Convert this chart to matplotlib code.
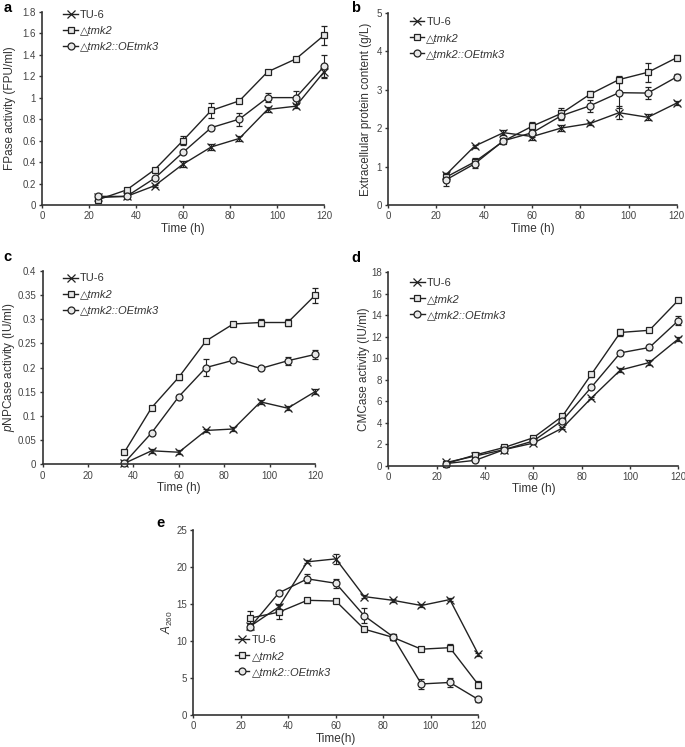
import matplotlib
matplotlib.use("Agg")
import matplotlib.pyplot as plt
import matplotlib.transforms as mtransforms
from matplotlib.lines import Line2D

plt.rcParams['font.family'] = ['Liberation Sans', 'DejaVu Sans']
plt.rcParams['mathtext.fontset'] = 'custom'
plt.rcParams['mathtext.rm'] = 'Liberation Sans'
plt.rcParams['mathtext.it'] = 'Liberation Sans:italic'

# sampling times
hours = [24, 36, 48, 60, 72, 84, 96, 108, 120]
hours_c = [36, 48, 60, 72, 84, 96, 108, 120]

# a: FPase activity
fp_tu6 = [0.07, 0.08, 0.18, 0.38, 0.54, 0.62, 0.89, 0.92, 1.24]
fp_tu6_err = [0.01, 0.01, 0.01, 0.03, 0.03, 0.02, 0.02, 0.02, 0.05]
fp_tmk2 = [0.05, 0.14, 0.33, 0.60, 0.88, 0.97, 1.24, 1.36, 1.58]
fp_tmk2_err = [0.01, 0.01, 0.01, 0.04, 0.07, 0.01, 0.01, 0.01, 0.09]
fp_oe = [0.08, 0.08, 0.25, 0.49, 0.72, 0.80, 1.00, 1.00, 1.29]
fp_oe_err = [0.01, 0.01, 0.01, 0.01, 0.02, 0.06, 0.04, 0.06, 0.11]

# b: extracellular protein
pr_tu6 = [0.78, 1.53, 1.88, 1.78, 2.00, 2.12, 2.40, 2.28, 2.65]
pr_tu6_err = [0.05, 0.04, 0.06, 0.08, 0.07, 0.05, 0.17, 0.08, 0.06]
pr_tmk2 = [0.72, 1.12, 1.66, 2.05, 2.38, 2.88, 3.26, 3.45, 3.83]
pr_tmk2_err = [0.10, 0.10, 0.05, 0.10, 0.15, 0.08, 0.10, 0.25, 0.06]
pr_oe = [0.65, 1.07, 1.67, 1.88, 2.32, 2.58, 2.92, 2.91, 3.33]
pr_oe_err = [0.15, 0.12, 0.05, 0.12, 0.10, 0.15, 0.40, 0.15, 0.08]

# c: pNPCase activity
pn_tu6 = [0.002, 0.028, 0.025, 0.070, 0.073, 0.129, 0.116, 0.150]
pn_tu6_err = [0.002, 0.004, 0.004, 0.003, 0.004, 0.004, 0.004, 0.005]
pn_tmk2 = [0.025, 0.117, 0.180, 0.255, 0.290, 0.293, 0.293, 0.349]
pn_tmk2_err = [0.002, 0.003, 0.005, 0.003, 0.004, 0.008, 0.008, 0.015]
pn_oe = [0.003, 0.065, 0.140, 0.200, 0.215, 0.198, 0.214, 0.227]
pn_oe_err = [0.002, 0.002, 0.003, 0.017, 0.003, 0.004, 0.008, 0.010]

# d: CMCase activity
cm_tu6 = [0.3, 0.9, 1.5, 2.1, 3.5, 6.3, 8.9, 9.6, 11.8]
cm_tu6_err = [0.1, 0.1, 0.1, 0.1, 0.1, 0.1, 0.2, 0.2, 0.2]
cm_tmk2 = [0.2, 1.0, 1.7, 2.6, 4.6, 8.5, 12.4, 12.6, 15.4]
cm_tmk2_err = [0.1, 0.1, 0.1, 0.2, 0.2, 0.2, 0.3, 0.2, 0.2]
cm_oe = [0.2, 0.5, 1.5, 2.3, 4.2, 7.3, 10.5, 11.0, 13.5]
cm_oe_err = [0.1, 0.1, 0.1, 0.1, 0.2, 0.2, 0.2, 0.2, 0.4]

# e: A260
a_tu6 = [12.0, 14.6, 20.7, 21.1, 16.0, 15.5, 14.8, 15.6, 8.2]
a_tu6_err = [0.4, 0.4, 0.2, 0.7, 0.2, 0.2, 0.2, 0.2, 0.2]
a_tmk2 = [13.1, 13.9, 15.5, 15.4, 11.6, 10.5, 8.9, 9.1, 4.1]
a_tmk2_err = [1.0, 0.9, 0.3, 0.3, 0.3, 0.3, 0.3, 0.5, 0.5]
a_oe = [11.9, 16.5, 18.4, 17.8, 13.4, 10.6, 4.2, 4.4, 2.1]
a_oe_err = [0.4, 0.3, 0.6, 0.6, 1.0, 0.4, 0.7, 0.6, 0.3]

labels = ['TU-6', '\u25b3tmk2', '\u25b3tmk2::OEtmk3']
markers = ['x', 's', 'o']
line_col = '#222222'
axis_col = '#333333'
W, H = 685, 747


def draw_panel(ax, xs, series, ylim, yticks, ylabel, xlabel, letter, letter_xy,
               ylabel_x, legend_loc):
    handles = []
    for (ys, err), lab, mk in zip(series, labels, markers):
        style = dict(color=line_col, lw=1.0, marker=mk, ms=5 if mk != 'x' else 5.5,
                     mfc='#e8e8e8' if mk != 'x' else line_col, mec=line_col, mew=0.9)
        ax.errorbar(xs, ys, yerr=err, capsize=2, elinewidth=0.8, clip_on=False, **style)
        handles.append(Line2D([], [], label=lab, **style))
    ax.set_xlim(0, 120)
    ax.set_ylim(*ylim)
    ax.set_xticks(range(0, 121, 20))
    ax.set_yticks(yticks)
    ax.set_yticklabels([('%g' % t) for t in yticks])
    for s in ['top', 'right']:
        ax.spines[s].set_visible(False)
    for s in ['left', 'bottom']:
        ax.spines[s].set_linewidth(1.2)
        ax.spines[s].set_color(axis_col)
    ax.tick_params(labelsize=7, colors=axis_col, labelcolor='#444444',
                   length=2.5, width=1.0, direction='out', pad=2)
    ax.set_ylabel(ylabel, fontsize=8.5, color='#333333')
    ax.set_xlabel(xlabel, fontsize=8.5, labelpad=1, color='#333333')
    tr = mtransforms.blended_transform_factory(ax.figure.transFigure, ax.transAxes)
    ax.yaxis.set_label_coords(ylabel_x / W, 0.5, transform=tr)
    ax.figure.text(letter_xy[0] / W, 1 - letter_xy[1] / H, letter, fontsize=10.5,
                   fontweight='bold', ha='left', va='center')
    leg = ax.legend(handles=handles, loc=legend_loc, frameon=False, fontsize=8,
                    handlelength=1.3, handletextpad=0.2, labelspacing=0.55,
                    borderaxespad=0.2)
    for t in leg.get_texts()[1:]:
        t.set_style('italic')
    for t in leg.get_texts():
        t.set_color('#333333')


fig = plt.figure(figsize=(6.85, 7.47), dpi=100)

ax_a = fig.add_axes([0.0613, 0.7256, 0.4117, 0.2587])
draw_panel(ax_a, hours, [(fp_tu6, fp_tu6_err), (fp_tmk2, fp_tmk2_err), (fp_oe, fp_oe_err)],
           (0, 1.8), [0, 0.2, 0.4, 0.6, 0.8, 1, 1.2, 1.4, 1.6, 1.8],
           'FPase activity (FPU/ml)', 'Time (h)', 'a', (4, 8), 16, (0.06, 0.77))

ax_b = fig.add_axes([0.5664, 0.7256, 0.4215, 0.2574])
draw_panel(ax_b, hours, [(pr_tu6, pr_tu6_err), (pr_tmk2, pr_tmk2_err), (pr_oe, pr_oe_err)],
           (0, 5), [0, 1, 2, 3, 4, 5],
           'Extracellular protein content (g/L)', 'Time (h)', 'b', (351, 8), 372,
           (0.06, 0.735))

ax_c = fig.add_axes([0.0623, 0.3784, 0.3975, 0.2592])
draw_panel(ax_c, hours_c, [(pn_tu6, pn_tu6_err), (pn_tmk2, pn_tmk2_err), (pn_oe, pn_oe_err)],
           (0, 0.4), [0, 0.05, 0.1, 0.15, 0.2, 0.25, 0.3, 0.35, 0.4],
           r'$\mathit{p}$NPCase activity (IU/ml)', 'Time (h)', 'c', (3, 257), 17,
           (0.06, 0.745))

ax_d = fig.add_axes([0.5669, 0.3766, 0.4234, 0.2589])
draw_panel(ax_d, hours, [(cm_tu6, cm_tu6_err), (cm_tmk2, cm_tmk2_err), (cm_oe, cm_oe_err)],
           (0, 18), [0, 2, 4, 6, 8, 10, 12, 14, 16, 18],
           'CMCase activity (IU/ml)', 'Time (h)', 'd', (351, 258), 370, (0.06, 0.73))

ax_e = fig.add_axes([0.2822, 0.0428, 0.4161, 0.2477])
draw_panel(ax_e, hours, [(a_tu6, a_tu6_err), (a_tmk2, a_tmk2_err), (a_oe, a_oe_err)],
           (0, 25), [0, 5, 10, 15, 20, 25],
           r'$\mathit{A}_{260}$', 'Time(h)', 'e', (156, 523), 175, (0.13, 0.18))

fig.savefig('out.png', dpi=100)
